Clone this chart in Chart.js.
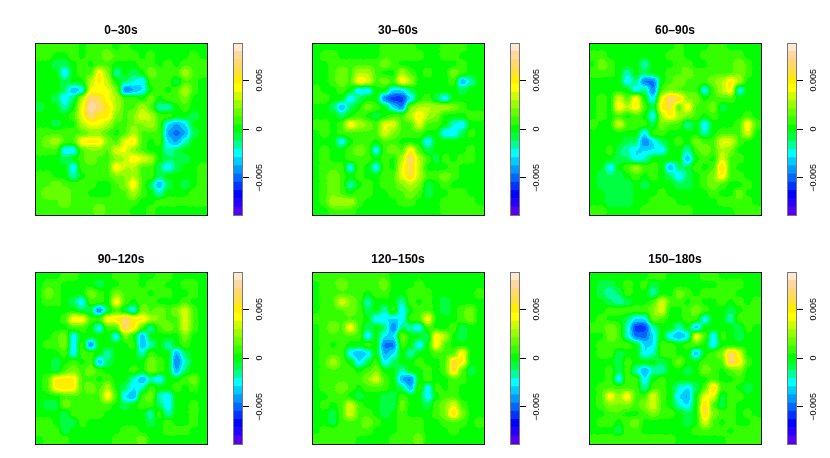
<!DOCTYPE html>
<html><head><meta charset="utf-8">
<style>html,body{margin:0;padding:0;background:#fff;width:830px;height:458px;overflow:hidden}canvas{position:absolute;display:block}</style>
<script src="https://cdn.jsdelivr.net/npm/chart.js@4"></script>
</head><body>
<script>
const panelTitles = ["0–30s","30–60s","60–90s","90–120s","120–150s","150–180s"];
const tickValues = [-5,0,5];
const tickLabels = ["−0.005","0","0.005"];
const bandEdges = [-8.8,-7.96,-7.12,-6.28,-5.44,-4.6,-3.76,-2.92,-2.08,-1.24,-0.4,0.4,1.24,2.08,2.92,3.76,4.6,5.44,6.28,7.12,7.96,8.8];
const bandColors = ["#5500ee","#2200ff","#0000ff","#0033ff","#0066ff","#0099ff","#00ccff","#00ffff","#00ff99","#00ff40","#00ff00","#33ff00","#66ff00","#99ff00","#ccff00","#ffff00","#ffee00","#ffe040","#ffd870","#ffd8a0","#ffe8d0"];
const panel1 = [
[1,1,1,1,1,0,1,1,1,0,1,0,0,0,0,0,0,0,0,0],
[1,1,0,0,1,0,1,1,2,1,1,1,0,1,0,0,0,0,1,0],
[0,0,-1,-1,0,1,0,1,1,0,0,0,1,1,0,1,0,1,1,1],
[0,0,0,-3,0,1,1,5,2,-2,0,-1,0,2,1,1,1,3,1,1],
[0,0,0,-1,0,0,3,5,3,0,-1,-2,-3,1,1,1,-1,1,1,0],
[0,0,0,-1,-4,-3,4,4,4,2,-5,-4,-3,0,1,0,1,3,1,0],
[0,0,-1,-3,-1,3,7,6,4,3,1,1,0,2,0,1,1,2,0,0],
[-1,0,0,-2,0,4,8,7,5,3,1,1,3,1,-2,-2,0,1,0,0],
[0,0,0,0,1,4,7,5,5,2,1,2,4,3,1,1,0,0,-1,0],
[0,0,-1,0,0,3,4,4,3,1,1,2,2,3,1,-3,-4,-3,0,0],
[1,1,1,1,1,1,2,2,1,0,1,3,1,1,1,-4,-5,-4,-1,0],
[1,2,3,1,1,5,5,5,2,1,4,5,1,0,1,-3,-4,-2,0,0],
[1,1,1,-3,-3,1,2,2,1,4,4,2,1,0,0,-2,-1,0,0,0],
[0,0,0,-1,0,1,2,1,1,2,3,5,4,3,0,-1,-1,-1,0,0],
[0,0,0,0,-3,1,1,1,1,5,3,3,1,1,-1,-3,-1,0,0,1],
[1,1,0,0,-2,0,1,1,1,2,2,3,1,1,-1,0,0,0,0,1],
[1,1,2,1,1,1,1,0,0,1,2,5,1,-1,-4,-1,0,-1,0,1],
[1,2,2,2,1,1,0,0,0,1,1,3,1,0,-2,0,0,0,1,1],
[1,1,1,2,1,1,1,1,1,1,1,1,0,0,1,1,1,1,1,1],
[1,1,1,1,1,1,1,2,1,1,1,0,0,1,0,0,0,0,0,0]];
const panel2 = [
[0,0,0,0,0,0,0,0,1,1,1,1,0,0,0,1,1,1,0,0],
[0,1,1,0,0,0,0,0,1,1,1,1,1,0,0,1,1,0,0,0],
[0,0,1,1,1,1,1,1,2,1,0,0,0,0,0,0,0,1,0,0],
[0,0,1,2,1,3,3,1,0,0,3,1,0,1,0,0,2,1,0,0],
[0,0,1,2,1,5,4,1,2,1,5,3,0,0,0,0,1,-4,-2,0],
[1,0,0,1,0,-3,-3,0,0,-3,-3,-1,0,0,0,0,0,-1,0,0],
[1,1,0,0,-3,-1,0,0,-5,-6,-6,-3,0,1,-1,-3,0,0,0,0],
[0,0,-1,-4,-1,0,2,1,0,-3,-5,2,3,3,3,3,2,1,0,0],
[0,0,0,-1,0,1,0,-1,0,1,1,3,5,3,2,0,0,0,1,1],
[1,1,0,1,5,3,2,1,4,4,1,1,4,1,1,0,-2,-3,0,0],
[0,1,0,1,1,1,1,1,4,2,1,1,1,0,0,-3,-3,-1,1,0],
[0,0,0,-3,0,1,1,0,1,1,0,0,0,-3,0,0,0,0,0,0],
[0,1,0,0,1,2,1,-3,1,2,1,5,1,-1,0,0,0,0,1,0],
[0,1,0,0,1,1,1,0,1,0,3,7,3,1,-1,1,0,1,1,0],
[0,1,1,1,-3,1,0,-3,1,0,4,6,3,0,0,0,1,0,0,0],
[0,1,2,1,0,1,0,0,1,1,4,6,3,1,1,2,1,0,0,0],
[0,1,2,1,-2,0,1,0,1,1,2,3,2,-1,0,1,0,0,0,0],
[0,1,2,1,0,1,1,0,0,1,1,2,1,-1,0,0,1,1,0,0],
[0,1,3,3,3,1,0,0,0,0,1,1,0,0,0,1,1,1,1,0],
[0,0,1,1,1,0,0,0,0,0,0,0,0,0,0,1,1,1,1,1]];
const panel3 = [
[0,0,0,0,0,0,0,0,0,0,1,0,0,0,1,1,0,0,0,0],
[1,1,0,0,0,0,0,0,0,1,1,0,0,1,1,1,1,1,0,0],
[0,2,1,0,0,0,-2,0,0,0,1,1,0,0,1,1,1,2,1,0],
[1,1,1,0,-2,0,-1,0,0,1,1,2,1,1,1,1,1,2,1,0],
[0,0,0,0,-3,-1,-5,-5,0,1,2,1,1,1,2,3,5,3,0,0],
[0,0,0,0,0,-3,-1,-5,1,2,1,1,1,-3,1,3,5,-3,0,0],
[0,1,0,4,1,5,0,-3,4,7,6,2,2,0,1,1,1,0,0,0],
[0,1,0,5,3,5,1,-1,5,6,1,5,1,1,2,-1,0,0,0,0],
[0,1,0,1,0,1,0,-3,3,5,3,2,1,0,1,0,0,0,1,0],
[1,0,0,4,1,1,1,-1,2,1,1,-2,0,-3,0,0,0,1,5,1],
[0,0,0,0,0,0,-3,1,1,0,0,0,0,-2,0,1,1,1,4,0],
[0,0,0,0,-1,-1,-5,-3,-1,0,1,0,2,1,1,4,4,1,0,0],
[0,0,1,-1,-2,-3,-3,-3,-3,0,0,-2,1,2,1,3,2,0,0,0],
[0,0,0,-1,-1,-3,-2,0,0,0,0,-4,0,1,0,4,1,1,0,0],
[0,0,-3,0,1,3,1,1,0,-4,-1,-1,1,0,1,6,1,0,0,0],
[0,-1,-1,-1,0,1,0,1,0,-1,-3,-1,0,1,2,5,1,1,0,0],
[0,-1,-1,-1,-1,0,-1,0,0,0,-1,-1,0,1,2,1,0,0,1,0],
[0,0,-1,-1,-1,0,0,0,1,0,0,0,0,0,1,0,0,2,0,0],
[0,0,-1,-1,-1,0,0,1,1,1,0,0,0,0,0,1,1,1,1,0],
[1,1,0,0,0,0,1,1,1,1,1,1,0,0,0,0,0,1,1,1]];
const panel4 = [
[0,0,0,1,1,0,0,0,0,1,1,1,0,0,1,1,0,0,0,0],
[0,1,1,0,0,0,0,-1,0,0,1,1,0,1,1,0,0,1,1,0],
[0,2,1,0,0,0,2,1,0,2,1,1,1,0,1,1,0,0,1,0],
[0,1,1,0,-1,-3,1,1,0,5,1,0,1,1,0,0,0,1,0,0],
[0,0,0,0,0,-1,-1,-5,-1,1,-1,-3,2,1,2,1,2,4,1,0],
[0,0,0,1,5,5,1,1,5,5,7,5,5,3,2,1,1,4,1,0],
[0,0,0,0,1,1,0,-3,1,1,7,5,1,-2,1,2,1,4,1,0],
[0,0,1,2,-3,0,0,0,0,-3,2,0,-4,0,0,0,0,2,0,0],
[0,1,1,2,-3,1,-5,0,0,0,0,1,-4,-2,0,-2,0,1,0,0],
[0,0,0,1,-3,1,1,0,-2,0,0,0,-2,1,0,0,-4,-1,0,0],
[0,0,-1,0,1,0,1,-4,-1,0,0,0,0,2,1,0,-5,-2,0,0],
[0,0,-1,1,2,1,2,1,0,0,0,1,0,2,1,0,-4,-1,0,0],
[0,1,5,5,5,1,1,0,1,0,0,-2,-4,-2,-3,0,0,1,2,0],
[0,1,5,5,5,1,2,1,3,0,-1,-3,-2,1,0,0,1,0,1,0],
[0,0,0,1,1,1,1,1,5,1,-3,-4,1,2,-2,-3,0,0,0,0],
[0,-1,-1,2,1,1,1,1,1,0,-1,0,1,1,-1,-3,0,0,1,0],
[0,0,0,-1,1,1,1,1,0,0,0,0,0,-2,1,-2,0,0,1,0],
[1,1,0,-1,-1,1,0,0,0,0,0,0,0,-1,0,1,0,0,1,0],
[1,1,1,-1,0,0,0,0,0,0,1,1,0,0,0,1,1,1,0,0],
[0,1,1,1,0,0,0,0,0,1,1,1,2,0,0,0,0,0,0,0]];
const panel5 = [
[1,1,1,1,1,1,1,1,1,0,0,0,0,0,0,0,0,0,0,0],
[0,1,1,2,1,1,1,1,2,0,0,0,1,0,0,0,0,0,0,0],
[0,1,1,1,1,1,0,1,1,0,0,1,1,1,0,0,0,0,0,1],
[0,1,1,4,2,1,-2,0,0,0,-2,1,0,1,0,-1,0,0,0,0],
[0,1,1,1,2,1,-1,0,-2,1,-3,0,1,1,0,-1,0,1,2,0],
[1,1,1,1,1,1,0,-3,-3,-3,-3,1,1,5,0,0,0,1,2,0],
[0,1,2,1,5,1,-1,0,-1,-5,-1,-2,-3,1,0,0,1,-1,0,0],
[0,1,1,1,1,1,-3,0,-3,-3,2,0,0,-1,5,3,0,-1,0,0],
[0,1,0,1,0,0,1,0,-5,-5,1,0,-3,0,5,1,0,0,0,0],
[0,1,1,1,-3,-4,-3,0,-4,-3,0,-2,0,0,1,1,1,5,0,0],
[0,1,3,1,0,-3,-1,1,-3,-1,0,0,1,0,0,1,6,5,0,0],
[0,1,1,1,1,0,1,2,0,0,-2,0,0,1,0,1,6,1,-1,0],
[0,1,1,1,1,1,2,4,1,0,-4,-5,0,1,0,0,1,1,0,0],
[0,1,1,2,1,0,1,1,1,0,-1,-4,1,-3,1,0,1,0,0,0],
[0,0,1,1,0,-1,0,0,-1,-1,1,0,0,-3,0,1,1,0,0,0],
[0,1,0,1,4,1,0,0,-1,-1,2,0,0,-1,1,2,4,1,0,0],
[0,0,-1,1,4,1,1,0,-1,0,1,0,0,0,1,2,6,2,0,0],
[0,0,-1,1,1,1,2,1,0,0,1,1,1,0,0,1,1,1,0,1],
[0,1,1,1,1,1,1,0,0,0,1,1,1,0,0,0,1,0,0,0],
[1,1,1,1,1,0,0,0,0,1,1,1,2,0,0,0,0,0,0,0]];
const panel6 = [
[0,0,0,0,0,0,0,1,1,0,0,0,0,1,1,0,0,0,0,0],
[0,-1,-1,0,1,0,1,-1,0,0,0,0,0,0,0,1,1,1,0,0],
[0,-1,-2,-1,1,0,0,-2,0,0,2,1,0,1,1,1,1,0,0,0],
[0,0,-1,-2,-1,0,0,1,4,1,1,0,1,0,0,1,0,1,0,1],
[0,0,1,1,1,1,1,2,4,0,0,1,2,1,0,0,-1,0,1,1],
[0,1,0,0,-1,-3,-3,2,1,0,0,1,1,-3,0,0,-2,1,1,1],
[1,1,2,1,-2,-6,-6,-2,0,0,-2,0,-4,0,0,0,0,-1,1,0],
[0,0,2,1,-2,-5,-5,-3,0,-3,-4,-3,5,1,-3,1,0,-1,0,0],
[0,1,1,1,1,0,-3,-3,1,1,0,1,1,0,-3,0,0,0,0,0],
[0,1,1,-1,0,0,-3,-2,1,1,0,0,-4,0,1,2,7,4,0,0],
[0,0,0,-1,1,0,0,0,-1,0,2,0,0,1,1,1,7,5,1,0],
[0,0,1,-1,1,-2,-4,-2,-2,0,0,-1,0,2,1,0,1,2,0,0],
[0,0,1,-3,1,1,-3,0,1,0,0,0,0,0,1,0,0,1,0,0],
[0,1,1,1,1,1,-2,1,1,0,-2,-3,-1,1,6,1,1,0,-1,0],
[0,1,5,2,5,1,1,4,1,0,-3,-4,0,4,4,-1,1,1,0,0],
[0,1,2,2,2,1,2,4,1,0,-2,-3,0,6,1,-1,1,0,0,0],
[0,0,1,1,0,0,1,2,1,1,0,-1,0,6,2,1,1,0,1,0],
[0,1,1,0,1,2,0,0,0,0,0,-1,0,4,1,0,1,0,0,1],
[0,0,0,-1,1,1,0,0,0,0,0,0,1,1,1,1,0,1,1,1],
[1,1,1,1,1,1,1,1,1,1,0,0,0,0,0,0,1,1,1,1]];
const panels = [panel1,panel2,panel3,panel4,panel5,panel6];
const panelLefts = [35,312,589,35,312,589];
const panelTops = [43,43,43,272,272,272];

function colorFor(v){
  for(let i=0;i<bandColors.length;i++) if(v>=bandEdges[i]&&v<bandEdges[i+1]) return bandColors[i];
  return v<0?bandColors[0]:bandColors[bandColors.length-1];
}
function rgbOf(h){return [parseInt(h.slice(1,3),16),parseInt(h.slice(3,5),16),parseInt(h.slice(5,7),16)];}
const GRAY_MID=128, GRAY_PER_UNIT=12;
function encode(v){const g=Math.round(GRAY_MID+v*GRAY_PER_UNIT);return 'rgb('+g+','+g+','+g+')';}
const lut=[];
for(let g=0;g<256;g++) lut.push(rgbOf(colorFor((g-GRAY_MID)/GRAY_PER_UNIT)));
const smooth = {id:'smooth',afterDatasetsDraw(c){
  const a=c.chartArea,x=c.ctx;
  x.save();x.beginPath();x.rect(a.left,a.top,a.width,a.height);x.clip();
  x.filter='blur(2.6px)';x.drawImage(c.canvas,0,0);x.restore();
  const l=Math.round(a.left),t=Math.round(a.top),w=Math.round(a.width),h=Math.round(a.height);
  const img=x.getImageData(l,t,w,h),d=img.data;
  for(let i=0;i<d.length;i+=4){const q=lut[d[i]];d[i]=q[0];d[i+1]=q[1];d[i+2]=q[2];d[i+3]=255;}
  x.putImageData(img,l,t);
  x.save();x.beginPath();x.rect(a.left,a.top,a.width,a.height);x.clip();
  x.filter='blur(0.5px)';x.drawImage(c.canvas,0,0);x.restore();
}};
const frame = {id:'frame',afterDraw(c,_,o){
  const a=c.chartArea,x=c.ctx;
  x.save();x.strokeStyle=o.color||'#111';x.lineWidth=1;
  x.strokeRect(a.left+.5,a.top+.5,a.width,a.height);x.restore();
}};
function makeCanvas(l,t,w,h){
  const c=document.createElement('canvas');c.width=w;c.height=h;
  c.style.left=l+'px';c.style.top=t+'px';c.style.width=w+'px';c.style.height=h+'px';
  document.body.appendChild(c);return c;
}
const FONT='"Liberation Sans",Arial,sans-serif';
panels.forEach((grid,p)=>{
  const L=panelLefts[p],T=panelTops[p];
  const points=[],colors=[];
  grid.forEach((row,r)=>row.forEach((v,k)=>{points.push({x:k+.5,y:r+.5});colors.push(encode(v));}));
  new Chart(makeCanvas(L-5,T-23,182,200),{
    type:'scatter',
    data:{datasets:[{data:points,pointStyle:'rect',pointBackgroundColor:colors,pointBorderWidth:0,
      pointRadius:6.5,pointHoverRadius:6.5}]},
    options:{responsive:false,animation:false,events:[],
      layout:{autoPadding:false,padding:{left:5,right:5,bottom:5,top:0}},
      scales:{x:{display:false,min:0,max:20},y:{display:false,min:0,max:20,reverse:true}},
      plugins:{legend:{display:false},tooltip:{enabled:false},frame:{color:'#111'},
        title:{display:true,text:panelTitles[p],color:'#000',font:{family:FONT,size:12,weight:'bold',lineHeight:1.2},padding:{top:3,bottom:5.6}}}},
    plugins:[smooth,frame]
  });
  const bands=bandColors.map((col,i)=>({data:[[bandEdges[i],bandEdges[i+1]]],backgroundColor:col,borderWidth:0,grouped:false,barPercentage:1,categoryPercentage:1}));
  new Chart(makeCanvas(L+193,T-5,44,182),{
    type:'bar',
    data:{labels:[''],datasets:bands},
    options:{responsive:false,animation:false,events:[],
      layout:{autoPadding:false,padding:{left:5,top:5,bottom:5,right:0}},
      scales:{
        x:{display:false},
        y:{position:'right',min:-8.8,max:8.8,
          afterBuildTicks:s=>{s.ticks=tickValues.map(v=>({value:v}));},
          afterFit:s=>{s.width=30;},
          border:{display:false},
          grid:{drawOnChartArea:false,drawTicks:true,tickLength:7,tickColor:'#000',tickWidth:1},
          ticks:{callback:v=>tickLabels[tickValues.indexOf(v)],autoSkip:false,minRotation:90,maxRotation:90,crossAlign:'center',padding:-3,color:'#000',font:{family:FONT,size:9}}}},
      plugins:{legend:{display:false},tooltip:{enabled:false},frame:{color:'#777'}}},
    plugins:[frame]
  });
});
</script>
</body></html>
